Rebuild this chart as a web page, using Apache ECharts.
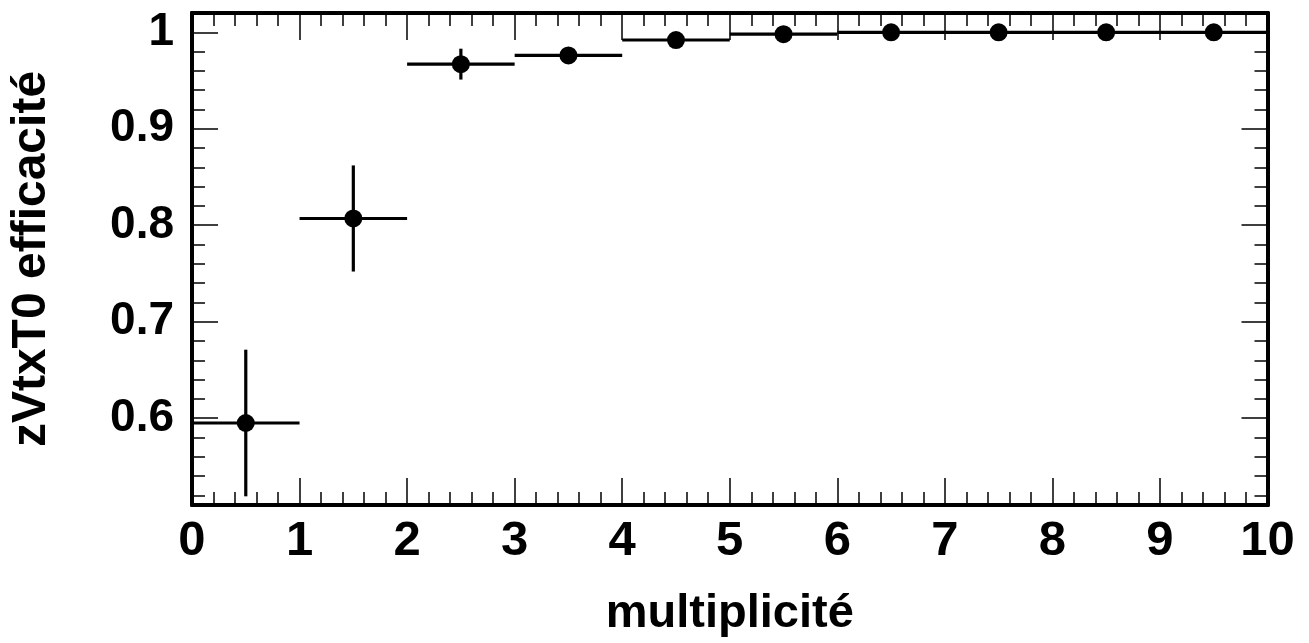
<!DOCTYPE html>
<html>
<head>
<meta charset="utf-8">
<script src="https://cdn.jsdelivr.net/npm/echarts@6/dist/echarts.min.js"></script>
<style>
html,body{margin:0;padding:0;background:#fff;}
#chart{width:1309px;height:643px;}
</style>
</head>
<body>
<div id="chart"></div>
<script>
// ---- data ----
const binCenters = [0.5, 1.5, 2.5, 3.5, 4.5, 5.5, 6.5, 7.5, 8.5, 9.5];
const binHalfWidths = [0.5, 0.5, 0.5, 0.5, 0.5, 0.5, 0.5, 0.5, 0.5, 0.5];
const efficiency = [0.595, 0.807, 0.967, 0.976, 0.992, 0.998, 1.0, 1.0, 1.0, 1.0];
const effErrors = [0.076, 0.055, 0.016, 0.007, 0.003, 0.002, 0.001, 0.001, 0.001, 0.001];
const yMajorTicks = [0.6, 0.7, 0.8, 0.9, 1.0];
const yMinorTicks = [0.52, 0.54, 0.56, 0.58, 0.62, 0.64, 0.66, 0.68, 0.72, 0.74, 0.76, 0.78,
                     0.82, 0.84, 0.86, 0.88, 0.92, 0.94, 0.96, 0.98, 1.02];
const xTitle = 'multiplicité';
const yTitle = 'zVtxT0 efficacité';

// ---- chart ----
const FONT = '"Liberation Sans", Arial, Helvetica, sans-serif';
const chart = echarts.init(document.getElementById('chart'), null, {renderer: 'canvas'});

const pts = binCenters.map((x, i) => [x, efficiency[i], binHalfWidths[i], effErrors[i]]);

const frameLine = {show: true, onZero: false, lineStyle: {color: '#000', width: 4}};

function yAxisDef(position, ticks, len, withLabels) {
  return {
    type: 'value', position: position, min: 0.51, max: 1.02,
    axisLine: frameLine,
    splitLine: {show: false},
    axisTick: {show: true, inside: true, length: len, customValues: ticks,
               lineStyle: {color: '#000', width: 1.5}},
    axisLabel: withLabels ? {show: true, customValues: ticks, color: '#000',
               fontFamily: FONT, fontWeight: 'bold', fontSize: 46, margin: 18} : {show: false},
    name: withLabels ? yTitle : '',
    nameLocation: 'middle', nameRotate: 90, nameGap: 136,
    nameTextStyle: {color: '#000', fontFamily: FONT, fontWeight: 'bold', fontSize: 48}
  };
}

function xAxisDef(position, withLabels) {
  return {
    type: 'value', position: position, min: 0, max: 10, interval: 1,
    axisLine: frameLine,
    splitLine: {show: false},
    axisTick: {show: true, inside: true, length: 27, lineStyle: {color: '#000', width: 1.5}},
    minorTick: {show: true, splitNumber: 5, length: 13, lineStyle: {color: '#000', width: 1.5}},
    axisLabel: withLabels ? {show: true, color: '#000', fontFamily: FONT, fontWeight: 'bold',
               fontSize: 49, margin: 12} : {show: false},
    name: withLabels ? xTitle : '',
    nameLocation: 'middle', nameGap: 86,
    nameTextStyle: {color: '#000', fontFamily: FONT, fontWeight: 'bold', fontSize: 47}
  };
}

chart.setOption({
  animation: false,
  backgroundColor: '#fff',
  grid: {left: 190.5, right: 41.5, top: 13, bottom: 137, containLabel: false},
  xAxis: [xAxisDef('bottom', true), xAxisDef('top', false)],
  yAxis: [
    yAxisDef('left', yMajorTicks, 26, true),
    yAxisDef('left', yMinorTicks, 13, false),
    yAxisDef('right', yMajorTicks, 26, false),
    yAxisDef('right', yMinorTicks, 13, false)
  ],
  series: [
    {
      type: 'custom',
      xAxisIndex: 0, yAxisIndex: 0,
      data: pts,
      clip: true,
      renderItem: function (params, api) {
        const x = api.value(0), y = api.value(1), hw = api.value(2), e = api.value(3);
        const l = api.coord([x - hw, y]);
        const r = api.coord([x + hw, y]);
        const t = api.coord([x, y + e]);
        const b = api.coord([x, y - e]);
        const st = {stroke: '#000', lineWidth: 3.2};
        return {
          type: 'group',
          children: [
            {type: 'line', shape: {x1: l[0], y1: l[1], x2: r[0], y2: r[1]}, style: st},
            {type: 'line', shape: {x1: t[0], y1: t[1], x2: b[0], y2: b[1]}, style: st}
          ]
        };
      }
    },
    {
      type: 'scatter',
      xAxisIndex: 0, yAxisIndex: 0,
      data: pts.map(p => [p[0], p[1]]),
      symbol: 'circle', symbolSize: 18,
      itemStyle: {color: '#000', opacity: 1}
    }
  ]
});
</script>
</body>
</html>
